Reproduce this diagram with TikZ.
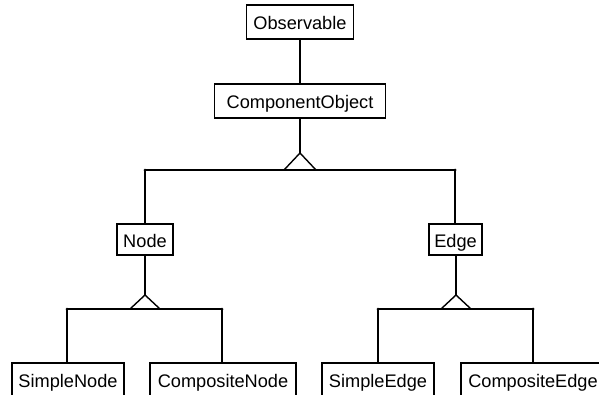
\documentclass[tikz,border=0pt]{standalone}
\usepackage{fontspec}
\setmainfont{Liberation Sans}
\begin{document}
\begin{tikzpicture}[x=1pt,y=-1pt,
  cls/.style={draw, line width=1.2pt, inner sep=0pt, minimum height=#1,
    text height=15pt, text depth=0pt, font=\fontsize{18.2}{20}\selectfont},
  cls/.default=31pt,
  link/.style={line width=1.4pt},
  joint/.style={fill, circle, inner sep=0pt, minimum size=3pt}]
\useasboundingbox (0,0) rectangle (599,394);
\clip (0,0) rectangle (599,394);

% class boxes
\node[cls=34pt, minimum width=107pt] (obs) at (300,22) {Observable};
\node[cls=34pt, minimum width=171pt] (comp) at (300,101) {ComponentObject};
\node[cls, minimum width=56pt] (node) at (145,239.5) {Node};
\node[cls, minimum width=53pt] (edge) at (455.5,239.5) {Edge};
\node[cls=33pt, minimum width=112pt] (snode) at (68,379.5) {SimpleNode};
\node[cls=33pt, minimum width=146pt] (cnode) at (223,379.5) {CompositeNode};
\node[cls=33pt, minimum width=112pt] (sedge) at (378,379.5) {SimpleEdge};
\node[cls=33pt, minimum width=144pt] (cedge) at (533,379.5) {CompositeEdge};

% inheritance junctions
\coordinate (a0) at (300,153);
\coordinate (l0) at (145,170);
\coordinate (r0) at (455,170);
\coordinate (a1) at (145,295);
\coordinate (l1) at (67,309);
\coordinate (r1) at (222,309);
\coordinate (a2) at (456,295);
\coordinate (l2) at (378,309);
\coordinate (r2) at (533,309);

\draw[link] (obs) -- (comp);

% ComponentObject generalization
\draw[link] (comp) -- (a0);
\draw[link, line join=miter] (284,170) -- (a0) -- (316,170);
\draw[link] (l0) -- (r0);
\draw[link] (l0) -- (node);
\draw[link] (r0) -- (edge.north -| r0);
\node[joint] at (l0) {};
\node[joint] at (r0) {};

% Node generalization
\draw[link] (node) -- (a1);
\draw[link, line join=miter] (130,309) -- (a1) -- (160,309);
\draw[link] (l1) -- (r1);
\draw[link] (l1) -- (snode.north -| l1);
\draw[link] (r1) -- (cnode.north -| r1);
\node[joint] at (l1) {};
\node[joint] at (r1) {};

% Edge generalization
\draw[link] (edge.south -| a2) -- (a2);
\draw[link, line join=miter] (441,309) -- (a2) -- (471,309);
\draw[link] (l2) -- (r2);
\draw[link] (l2) -- (sedge.north -| l2);
\draw[link] (r2) -- (cedge.north -| r2);
\node[joint] at (l2) {};
\node[joint] at (r2) {};
\end{tikzpicture}
\end{document}
